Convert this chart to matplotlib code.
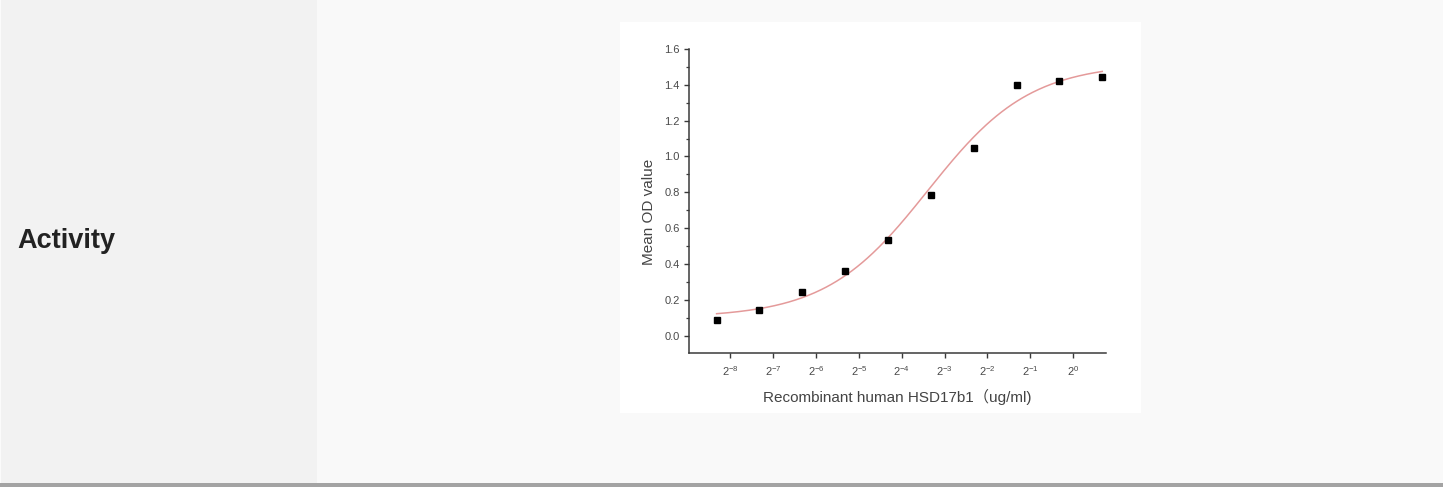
import numpy as np
import matplotlib.pyplot as plt
from matplotlib.patches import Rectangle

# dados
conc = [0.003125, 0.00625, 0.0125, 0.025, 0.05, 0.1, 0.2, 0.4, 0.8, 1.6]  # ug/ml
od = [0.088, 0.143, 0.242, 0.363, 0.534, 0.787, 1.049, 1.401, 1.423, 1.442]
tick_exp = [-8, -7, -6, -5, -4, -3, -2, -1, 0]
y_ticks = [0.0, 0.2, 0.4, 0.6, 0.8, 1.0, 1.2, 1.4, 1.6]

# parametros do ajuste 4PL (curva vermelha)
fit_bottom = 0.10
fit_top = 1.52
fit_ec50 = 0.0953
fit_hill = 1.21

W, H = 1443, 487
plt.rcParams['font.family'] = ['Liberation Sans', 'Noto Sans CJK SC', 'DejaVu Sans']
plt.rcParams['mathtext.fontset'] = 'custom'
plt.rcParams['mathtext.rm'] = 'Liberation Sans'

fig = plt.figure(figsize=(W / 100, H / 100), dpi=100)
fig.patch.set_facecolor('#f9f9f9')

def px_rect(x0, y0, x1, y1, color):
    # retangulo em pixels (origem no topo)
    fig.patches.append(Rectangle((x0 / W, 1 - y1 / H), (x1 - x0) / W, (y1 - y0) / H,
                                 transform=fig.transFigure, facecolor=color,
                                 edgecolor='none', zorder=-5))

px_rect(0, 0, 317, 483, '#f2f2f2')
px_rect(0, 0, 1, 483, '#fbfbfb')
px_rect(0, 483, W, H, '#a3a3a3')
px_rect(620, 22, 1141, 413, '#ffffff')

fig.text(17 / W, 1 - 248 / H, 'Activity', fontsize=19.5, fontweight='bold',
         color='#222222', va='baseline', ha='left')

# eixo do grafico
ax = fig.add_axes([689 / W, 1 - 353 / H, 417 / W, 304 / H])
ax.set_facecolor('none')
ax.set_zorder(5)

xs = np.geomspace(conc[0], conc[-1], 300)
ys = fit_top + (fit_bottom - fit_top) / (1 + (xs / fit_ec50) ** fit_hill)
ax.plot(xs, ys, color='#e49a9a', lw=1.1, zorder=2)
ax.plot(conc, od, 's', color='black', ms=4.2, zorder=3)

ax.set_xscale('log', base=2)
ax.set_xlim(0.002, 1.7)
ax.set_ylim(-0.097, 1.6)

ax.set_xticks([2.0 ** e for e in tick_exp])
ax.set_xticklabels([r'$\mathregular{2^{%d}}$' % e for e in tick_exp])
ax.xaxis.set_minor_locator(plt.NullLocator())
ax.set_yticks(y_ticks)
ax.set_yticklabels(['%.1f' % v for v in y_ticks])
ax.set_yticks(np.arange(0.1, 1.6, 0.2), minor=True)

for s in ['top', 'right']:
    ax.spines[s].set_visible(False)
for s in ['left', 'bottom']:
    ax.spines[s].set_color('#3a3a3a')
    ax.spines[s].set_linewidth(1.1)

ax.tick_params(axis='both', which='major', direction='out', length=3.8, width=1.0,
               color='#3a3a3a', labelcolor='#4a4a4a', labelsize=8)
ax.tick_params(axis='y', which='minor', direction='out', length=2.2, width=0.9,
               color='#3a3a3a')
ax.tick_params(axis='y', pad=3)
ax.tick_params(axis='x', pad=4.5)

ax.set_xlabel('Recombinant human HSD17b1（ug/ml)', fontsize=11, color='#444444')
ax.xaxis.set_label_coords(0.5, -0.118)
ax.set_ylabel('Mean OD value', fontsize=11, color='#444444')
ax.yaxis.set_label_coords(-0.08, 0.464)

fig.savefig('out.png', dpi=100, facecolor=fig.get_facecolor())
